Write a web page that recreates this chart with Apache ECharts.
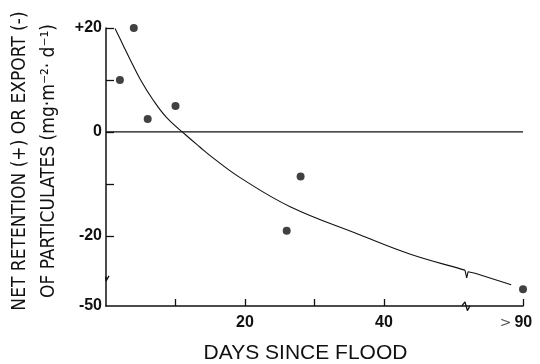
<!DOCTYPE html>
<html>
<head>
<meta charset="utf-8">
<script src="https://cdn.jsdelivr.net/npm/echarts@6/dist/echarts.min.js"></script>
<style>
  html, body { margin: 0; padding: 0; background: #fff; }
  #main { width: 540px; height: 364px; }
</style>
</head>
<body>
<div id="main"></div>
<script>
// plotted positions: the broken axes put ">90" days at x = 60 and -50 at y = -33.5
const points = [[2, 10], [4, 20], [6, 2.5], [10, 5], [26, -19], [28, -8.6], [60, -30.3]]
const curve = [[1.3, 19.9], [2.5, 16.6], [3.45, 14.0], [4.9, 10.2], [6.8, 6.1], [8.7, 2.8], [11.4, -0.5],
  [13.5, -2.9], [15.4, -5.0], [19.3, -8.8], [26.5, -14.4], [36.5, -19.8], [43.7, -23.5], [51.1, -26.4], [51.65, -26.6]]
const curveBreak = [[51.65, -26.6], [51.9, -28.1], [52.1, -26.9]]
const curveTail = [[52.1, -26.9], [53.1, -27.2], [58.3, -29.4]]
const zeroLine = [[0, 0], [60, 0]]
const xBreak = [[51.2, -33.46], [51.65, -32.7], [52.0, -34.4], [52.37, -33.46]]
const yBreak = [[-0.5, -28.9], [0, -27.9], [0, -28.7], [0.43, -27.7]]

const xTicks = [10, 20, 30, 40, 60]
const xLabelValues = [20, 40, 60]
const xLabelTexts = ['20', '40', '>90']
const yTicks = [20, 10, 0, -10, -20]
const yLabelValues = [20, 0, -20, -33.5]
const yLabelTexts = ['+20', '0', '-20', '-50']

const myChart = echarts.init(document.getElementById('main'))

const lineStyle = (w) => ({ color: '#111', width: w })
const plainLine = (data, w) => ({
  type: 'line',
  data: data,
  symbol: 'none',
  clip: false,
  silent: true,
  lineStyle: lineStyle(w),
  z: 3
})

myChart.setOption({
  animation: false,
  grid: {
    left: 106,
    top: 28,
    width: 417,
    height: 278,
    containLabel: false,
    outerBoundsMode: 'none'
  },
  xAxis: {
    type: 'value',
    min: 0,
    max: 60,
    name: 'DAYS SINCE FLOOD',
    nameLocation: 'middle',
    nameGap: 37,
    nameTextStyle: {
      fontFamily: 'Liberation Sans',
      fontSize: 21,
      color: '#111',
      padding: [0, 18, 0, 0]
    },
    splitLine: { show: false },
    axisLine: { onZero: false, lineStyle: { color: '#111', width: 1.5 } },
    axisTick: { inside: true, length: 7, customValues: xTicks, lineStyle: { color: '#111', width: 1.3 } },
    axisLabel: {
      customValues: xLabelValues,
      margin: 9,
      formatter: (v) => {
        const t = xLabelTexts[xLabelValues.indexOf(v)]
        return t === '>90' ? '{gt|>}{last|90}' : '{n|' + t + '}'
      },
      rich: {
        n: { fontFamily: 'Liberation Sans', fontWeight: 'bold', fontSize: 16, color: '#111' },
        last: { fontFamily: 'Liberation Sans', fontWeight: 'bold', fontSize: 16, color: '#111', padding: [0, 14, 0, 0] },
        gt: { fontFamily: 'DejaVu Sans', fontWeight: 'normal', fontSize: 14, color: '#555', padding: [0, 3, 0, 0] }
      }
    }
  },
  yAxis: {
    type: 'value',
    min: -33.5,
    max: 20,
    name: 'NET RETENTION (+) OR EXPORT (-)\nOF PARTICULATES (mg·m⁻²· d⁻¹)',
    nameLocation: 'middle',
    nameRotate: 90,
    nameGap: 37,
    nameTextStyle: {
      fontFamily: '"Liberation Sans Narrow", "DejaVu Sans Condensed", "Liberation Sans"',
      fontSize: 19,
      lineHeight: 29,
      color: '#111',
      padding: [0, 0, 0, 12]
    },
    splitLine: { show: false },
    axisLine: { onZero: false, lineStyle: { color: '#111', width: 1.5 } },
    axisTick: { inside: true, length: 8, customValues: yTicks, lineStyle: { color: '#111', width: 1.3 } },
    axisLabel: {
      customValues: yLabelValues,
      showMinLabel: true,
      showMaxLabel: true,
      margin: 4,
      fontFamily: 'Liberation Sans',
      fontWeight: 'bold',
      fontSize: 16,
      color: '#111',
      formatter: (v) => yLabelTexts[yLabelValues.indexOf(v)]
    }
  },
  series: [
    plainLine(zeroLine, 1.3),
    Object.assign(plainLine(curve, 1.1), { smooth: 0.4 }),
    plainLine(curveBreak, 1.1),
    plainLine(curveTail, 1.1),
    plainLine(xBreak, 1.3),
    plainLine(yBreak, 1.3),
    {
      type: 'scatter',
      data: points,
      symbol: 'circle',
      symbolSize: 8,
      clip: false,
      itemStyle: { color: '#111' },
      z: 4
    }
  ]
})
</script>
</body>
</html>
